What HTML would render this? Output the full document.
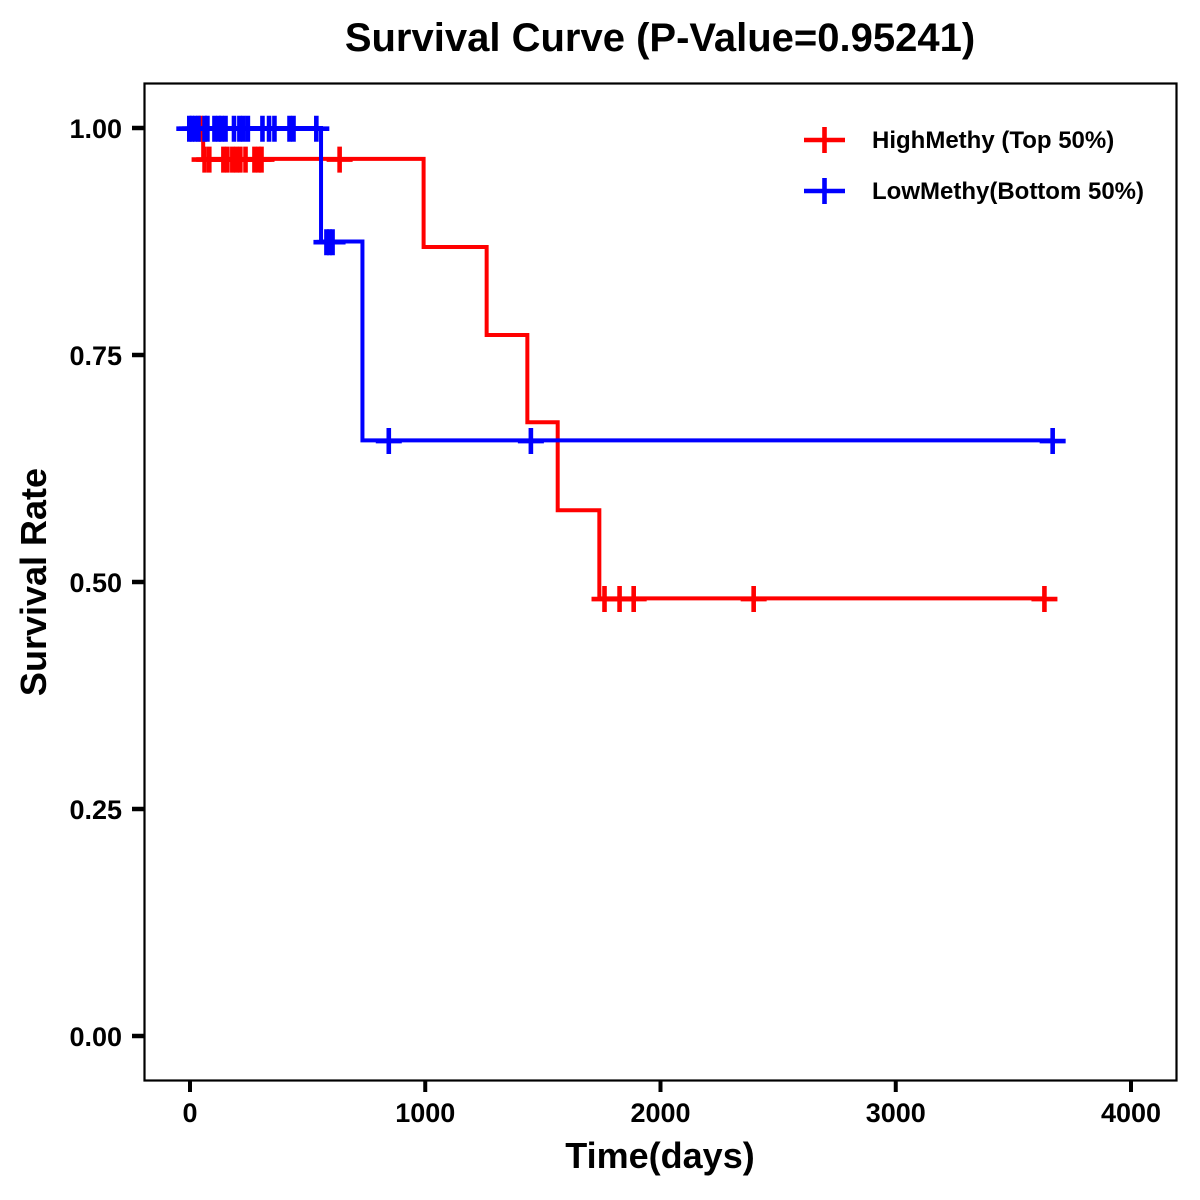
<!DOCTYPE html>
<html lang="en">
<head>
<meta charset="utf-8">
<title>Survival Curve</title>
<style>
html,body{margin:0;padding:0;background:#fff;}
svg{display:block;}
text{font-family:"Liberation Sans",Arial,sans-serif;font-weight:bold;fill:#000;}
</style>
</head>
<body>
<svg id="chart" xmlns="http://www.w3.org/2000/svg" width="1200" height="1200" viewBox="0 0 1200 1200">
  <rect x="0" y="0" width="1200" height="1200" fill="#fff"/>
  <text x="660" y="51" font-size="40" text-anchor="middle">Survival Curve (P-Value=0.95241)</text>
  <text x="660" y="1168" font-size="36" text-anchor="middle">Time(days)</text>
  <text transform="translate(46,582) rotate(-90)" font-size="36" text-anchor="middle">Survival Rate</text>
  <rect x="144.5" y="83.5" width="1032" height="997" fill="none" stroke="#000" stroke-width="2.2"/>
  <g id="axes"></g>
  <g id="series"></g>
  <g id="legend"></g>
</svg>
<script>
const xTicks = [0, 1000, 2000, 3000, 4000];
const yTicks = [0, 0.25, 0.5, 0.75, 1];
const yTickLabels = ['0.00', '0.25', '0.50', '0.75', '1.00'];

const highTimes = [0, 56, 993, 1261, 1434, 1563, 1740, 3633];
const highSurvival = [1, 0.966, 0.869, 0.772, 0.676, 0.579, 0.482, 0.482];
const highCensorTimes = [45, 62, 82, 142, 159, 180, 197, 214, 236, 274, 291, 304, 636, 1762, 1826, 1886, 2396, 3632];
const highCensorSurvival = [1, 0.966, 0.966, 0.966, 0.966, 0.966, 0.966, 0.966, 0.966, 0.966, 0.966, 0.966, 0.966, 0.482, 0.482, 0.482, 0.482, 0.482];

const lowTimes = [0, 557, 733, 3667];
const lowSurvival = [1, 0.875, 0.656, 0.656];
const lowCensorTimes = [-3, 8, 22, 36, 62, 74, 104, 121, 134, 151, 187, 210, 227, 246, 308, 336, 359, 423, 440, 537, 580, 593, 606, 845, 1449, 3667];
const lowCensorSurvival = [1, 1, 1, 1, 1, 1, 1, 1, 1, 1, 1, 1, 1, 1, 1, 1, 1, 1, 1, 1, 0.875, 0.875, 0.875, 0.656, 0.656, 0.656];

const legendLabels = ['HighMethy (Top 50%)', 'LowMethy(Bottom 50%)'];

const NS = 'http://www.w3.org/2000/svg';
function xScale(v) { return 190 + v * 0.23525; }
function yScale(v) { return 1036 - v * 908; }
function make(tag, attrs, parent) {
  const el = document.createElementNS(NS, tag);
  for (const k in attrs) el.setAttribute(k, attrs[k]);
  parent.appendChild(el);
  return el;
}

const axes = document.getElementById('axes');
xTicks.forEach(function (t) {
  const x = xScale(t);
  const tick = make('line', {x1: x, x2: x, y1: 1081, y2: 1092, stroke: '#000', 'stroke-width': 4}, axes);
  
  
  const label = make('text', {x: x, y: 1122, 'font-size': 27, 'text-anchor': 'middle'}, axes);
  label.textContent = String(t);
  
  
});
yTicks.forEach(function (t, i) {
  const y = yScale(t);
  const tick = make('line', {x1: 132, x2: 144, y1: y, y2: y, stroke: '#000', 'stroke-width': 4.5}, axes);
  
  
  const label = make('text', {x: 122, y: y + 10, 'font-size': 27, 'text-anchor': 'end'}, axes);
  label.textContent = yTickLabels[i];
  
  
});

function drawSeries(name, color, times, surv, cTimes, cSurv) {
  const g = make('g', {}, document.getElementById('series'));
  
  
  let d = 'M' + xScale(times[0]) + ' ' + yScale(surv[0]);
  for (let i = 1; i < times.length; i++) {
    d += 'H' + xScale(times[i]) + 'V' + yScale(surv[i]);
  }
  const path = make('path', {d: d, fill: 'none', stroke: color, 'stroke-width': 4, 'stroke-linejoin': 'miter'}, g);
  
  
  cTimes.forEach(function (t, i) {
    const x = xScale(t), y = yScale(cSurv[i]) + 0.7;
    const mark = make('path', {d: 'M' + (x - 13) + ' ' + y + 'H' + (x + 13) + 'M' + x + ' ' + (y - 13) + 'V' + (y + 13), fill: 'none', stroke: color, 'stroke-width': 4.6}, g);
    
    
  });
}
drawSeries('high-methy', '#ff0000', highTimes, highSurvival, highCensorTimes, highCensorSurvival);
drawSeries('low-methy', '#0000ff', lowTimes, lowSurvival, lowCensorTimes, lowCensorSurvival);

const legend = document.getElementById('legend');
const legendColors = ['#ff0000', '#0000ff'];
const legendRows = [140, 191];
legendLabels.forEach(function (txt, i) {
  const y = legendRows[i];
  const key = make('path', {d: 'M804 ' + y + 'H845M824.5 ' + (y - 13) + 'V' + (y + 13), fill: 'none', stroke: legendColors[i], 'stroke-width': 4.6}, legend);
  
  
  const label = make('text', {x: 872, y: y + 8, 'font-size': 24}, legend);
  label.textContent = txt;
  
  
});
</script>
</body>
</html>
